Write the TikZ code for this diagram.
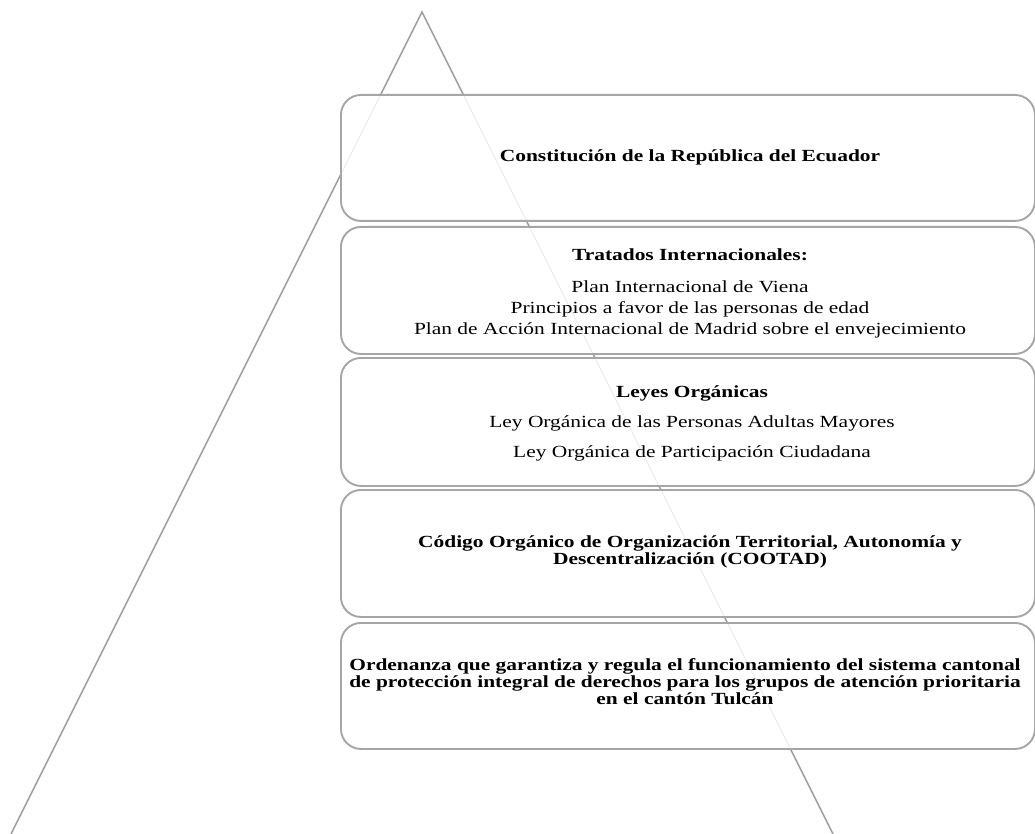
\documentclass[tikz,border=0pt]{standalone}
\usepackage{fontspec}
\usepackage{graphicx}
\setmainfont{Liberation Serif}
\newcommand{\stretchtxt}[1]{\scalebox{1.26}[1]{#1}}
\begin{document}
\begin{tikzpicture}[x=1pt,y=-1pt,
  tri/.style={draw=black!40, line width=1.4pt, line join=miter},
  tier/.style={draw=black!35, line width=1.9pt, fill=white, fill opacity=0.87,
    rounded corners=20pt, inner sep=0pt, minimum width=694pt, anchor=north west},
  txt/.style={inner sep=0pt, text height=11.2pt, text depth=0pt,
    font=\fontsize{17}{20}\selectfont},
  btxt/.style={txt, font=\fontsize{17}{20}\selectfont\bfseries}]
\useasboundingbox (0,0) rectangle (1035,834);
% pyramid
\coordinate (apex) at (422,12);
\coordinate (bl) at (11,834);
\coordinate (br) at (833,834);
\draw[tri] (bl) -- (apex) -- (br);
% tiers
\node[tier, minimum height=126pt] (t1) at (340,94) {};
\node[tier, minimum height=127pt] (t2) at (340,226) {};
\node[tier, minimum height=128pt] (t3) at (340,357) {};
\node[tier, minimum height=127pt] (t4) at (340,489) {};
\node[tier, minimum height=126pt] (t5) at (340,622) {};
% texts
\node[btxt] (a1) at (690,156) {\stretchtxt{Constitución de la República del Ecuador}};
\node[btxt] (b1) at (690,255) {\stretchtxt{Tratados Internacionales:}};
\node[txt] (b2) at (690,287) {\stretchtxt{Plan Internacional de Viena}};
\node[txt] (b3) at (690,308) {\stretchtxt{Principios a favor de las personas de edad}};
\node[txt] (b4) at (690,329) {\stretchtxt{Plan de Acción Internacional de Madrid sobre el envejecimiento}};
\node[btxt] (c1) at (692,392) {\stretchtxt{Leyes Orgánicas}};
\node[txt] (c2) at (692,422) {\stretchtxt{Ley Orgánica de las Personas Adultas Mayores}};
\node[txt] (c3) at (692,452) {\stretchtxt{Ley Orgánica de Participación Ciudadana}};
\node[btxt] (d1) at (690,542) {\stretchtxt{Código Orgánico de Organización Territorial, Autonomía y}};
\node[btxt] (d2) at (690,559) {\stretchtxt{Descentralización (COOTAD)}};
\node[btxt] (e1) at (685,665) {\stretchtxt{Ordenanza que garantiza y regula el funcionamiento del sistema cantonal}};
\node[btxt] (e2) at (685,682) {\stretchtxt{de protección integral de derechos para los grupos de atención prioritaria}};
\node[btxt] (e3) at (685,699) {\stretchtxt{en el cantón Tulcán}};
\end{tikzpicture}
\end{document}
